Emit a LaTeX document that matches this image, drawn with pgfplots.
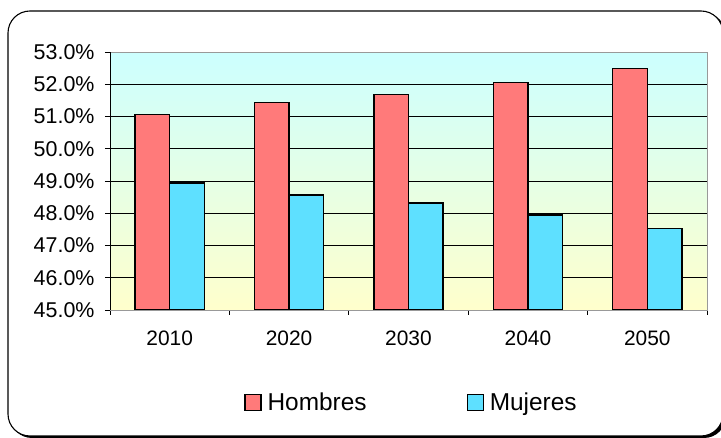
\documentclass[border=0pt]{standalone}
\usepackage{fontspec}
\setmainfont{Liberation Sans}
\usepackage{pgfplots}
\pgfplotsset{compat=1.18}
\definecolor{hom}{HTML}{FF7A7A}
\definecolor{muj}{HTML}{5EE0FF}
\definecolor{bgtop}{HTML}{CCFFFF}
\definecolor{bgbot}{HTML}{FFFFCC}
\begin{document}
\begin{tikzpicture}
\useasboundingbox (0,0) rectangle (721bp,438bp);
\begin{scope}
\clip (0,0) rectangle (721bp,438bp);
\fill[black, rounded corners=22bp] (10bp,0bp) rectangle (726bp,425bp);
\draw[fill=white, line width=1.1bp, rounded corners=22bp] (8bp,2bp) rectangle (723bp,427bp);
\end{scope}
\begin{axis}[
  at={(110bp,128bp)}, anchor=south west,
  width=597bp, height=258bp, scale only axis,
  ybar=0pt, bar width=0.29,
  xmin=-0.5, xmax=4.5, ymin=45, ymax=53,
  xtick={0,1,2,3,4}, xticklabels={2010,2020,2030,2040,2050},
  major x tick style={draw=none},
  minor xtick={-0.5,0.5,1.5,2.5,3.5,4.5},
  minor x tick style={black, line width=0.8bp},
  minor tick length=5bp,
  tick pos=left,
  ytick={45,46,...,53},
  yticklabel={\pgfmathprintnumber[fixed,fixed zerofill,precision=1]{\tick}\%},
  /pgf/number format/assume math mode=true,
  y tick style={black, line width=0.8bp},
  major tick length=5bp,
  tick align=outside,
  ymajorgrids, major grid style={black, line width=0.8bp},
  axis line style={gray!80, line width=1bp},
  axis background/.style={top color=bgtop, bottom color=bgbot},
  xticklabel style={yshift=-12bp, font=\fontsize{21}{24}\selectfont},
  yticklabel style={xshift=-7bp, font=\fontsize{21.5}{24}\selectfont},
  legend style={at={(0.505,-0.36)}, anchor=center, draw=none, fill=none,
    font=\fontsize{24.5}{28}\selectfont,
    legend columns=2,
    /tikz/every odd column/.append style={column sep=4bp},
    /tikz/every even column/.append style={column sep=98bp}},
  legend image code/.code={\draw[#1, line width=1.2bp] (0bp,-8bp) rectangle (16bp,8bp);},
]
\addplot[fill=hom, draw=black, line width=1.4bp] coordinates {(0,51.06) (1,51.44) (2,51.68) (3,52.06) (4,52.48)};
\addplot[fill=muj, draw=black, line width=1.4bp] coordinates {(0,48.94) (1,48.56) (2,48.32) (3,47.94) (4,47.52)};
\legend{Hombres,Mujeres}
\draw[black, line width=1bp] (rel axis cs:0,0) -- (rel axis cs:0,1);
\draw[black, line width=1bp] (rel axis cs:0,0) -- (rel axis cs:1,0);
\end{axis}
\end{tikzpicture}
\end{document}
